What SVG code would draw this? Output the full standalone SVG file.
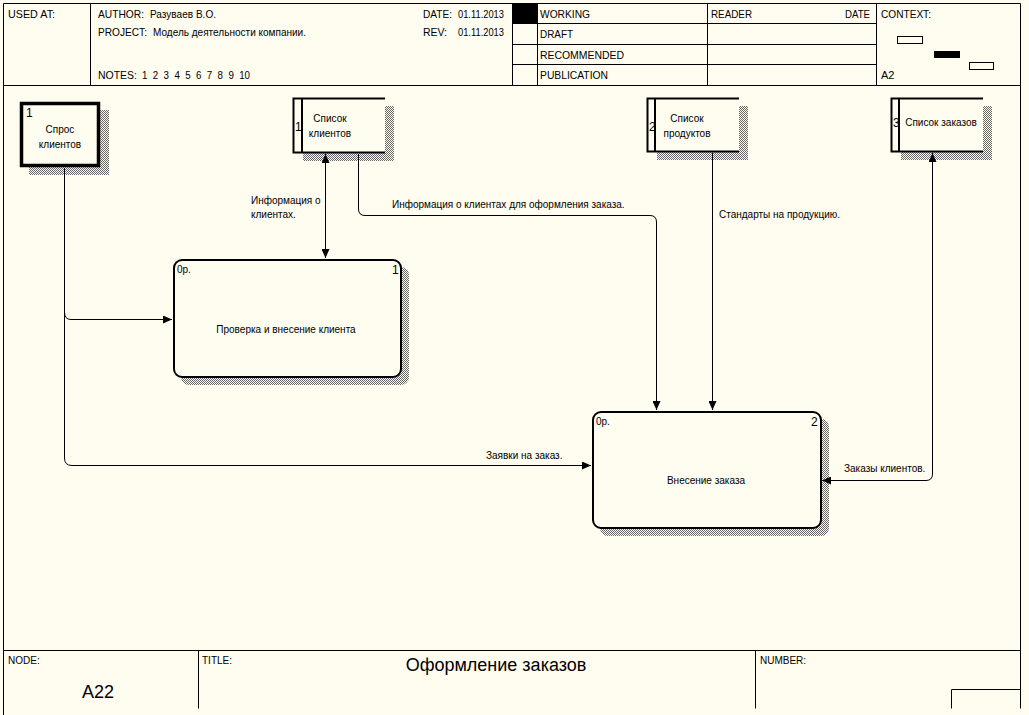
<svg xmlns="http://www.w3.org/2000/svg" width="1029" height="715" viewBox="0 0 1029 715">
<style>
text{font-family:"Liberation Sans",Arial,sans-serif;fill:#000;white-space:pre}
.h{font-size:11px}
.t{font-size:10px}
.n{font-size:12px}
.ln{stroke:#000;stroke-width:1;fill:none}
.box{fill:#FFFCF0;stroke:#000}
.sh{fill:url(#hatch)}
</style>
<defs>
<pattern id="hatch" width="2" height="2" patternUnits="userSpaceOnUse">
<rect width="2" height="2" fill="#FFFCF0"/>
<rect width="1" height="1" fill="#666"/>
<rect x="1" y="1" width="1" height="1" fill="#666"/>
</pattern>
<marker id="ah" markerUnits="userSpaceOnUse" markerWidth="10" markerHeight="8" refX="9" refY="4" orient="auto">
<path d="M0,0 L9,4 L0,8 z" fill="#000"/>
</marker>
</defs>
<rect width="1029" height="715" fill="#FFFCF0"/>

<g id="frame">
<path class="ln" d="M3.5,3.5 H1020.5 V708.5 M3.5,3.5 V715 M3.5,85.5 H1020.5 M90.5,3.5 V85.5 M512.5,3.5 V85.5 M537.5,3.5 V85.5 M707.5,3.5 V85.5 M876.5,3.5 V85.5 M512.5,23.5 H876.5 M512.5,44.5 H876.5 M512.5,64.5 H876.5"/>
<rect x="513" y="4" width="24" height="19" fill="#000"/>
<rect x="897.5" y="36.5" width="25" height="7" fill="#FFFCF0" stroke="#000"/>
<rect x="934" y="51" width="26" height="7" fill="#000"/>
<rect x="969.5" y="62.5" width="24" height="7" fill="#FFFCF0" stroke="#000"/>
<text class="h" x="8" y="18" textLength="47" lengthAdjust="spacingAndGlyphs">USED AT:</text>
<text class="h" x="98" y="18" textLength="46" lengthAdjust="spacingAndGlyphs">AUTHOR:</text>
<text class="h" x="150" y="18" textLength="66" lengthAdjust="spacingAndGlyphs">Разуваев В.О.</text>
<text class="h" x="98" y="36" textLength="49" lengthAdjust="spacingAndGlyphs">PROJECT:</text>
<text class="h" x="153" y="36" textLength="153" lengthAdjust="spacingAndGlyphs">Модель деятельности компании.</text>
<text class="h" x="98" y="79" textLength="39" lengthAdjust="spacingAndGlyphs">NOTES:</text>
<text class="h" x="142" y="79" textLength="108" lengthAdjust="spacingAndGlyphs">1  2  3  4  5  6  7  8  9  10</text>
<text class="h" x="423" y="18" textLength="29" lengthAdjust="spacingAndGlyphs">DATE:</text>
<text class="h" x="458" y="18" textLength="46" lengthAdjust="spacingAndGlyphs">01.11.2013</text>
<text class="h" x="423" y="36" textLength="24" lengthAdjust="spacingAndGlyphs">REV:</text>
<text class="h" x="458" y="36" textLength="46" lengthAdjust="spacingAndGlyphs">01.11.2013</text>
<text class="h" x="540" y="18" textLength="50" lengthAdjust="spacingAndGlyphs">WORKING</text>
<text class="h" x="540" y="38" textLength="33" lengthAdjust="spacingAndGlyphs">DRAFT</text>
<text class="h" x="540" y="59" textLength="84" lengthAdjust="spacingAndGlyphs">RECOMMENDED</text>
<text class="h" x="540" y="79" textLength="68" lengthAdjust="spacingAndGlyphs">PUBLICATION</text>
<text class="h" x="711" y="18" textLength="41" lengthAdjust="spacingAndGlyphs">READER</text>
<text class="h" x="845" y="18" textLength="25" lengthAdjust="spacingAndGlyphs">DATE</text>
<text class="h" x="881" y="18" textLength="50" lengthAdjust="spacingAndGlyphs">CONTEXT:</text>
<text class="h" x="881" y="79">A2</text>
<path class="ln" d="M3.5,650.5 H1020.5 M198.5,650.5 V708.5 M755.5,650.5 V708.5 M951.5,689.5 H1020.5 M951.5,689.5 V708.5"/>
<text class="t" x="8" y="664">NODE:</text>
<text style="font-size:18px" x="82" y="698">A22</text>
<text class="t" x="202" y="664">TITLE:</text>
<text style="font-size:18px" x="496" y="671" text-anchor="middle">Оформление заказов</text>
<text class="t" x="760" y="664">NUMBER:</text>
</g>

<g id="ext-spros">
<rect class="sh" x="29" y="110" width="80" height="65"/>
<rect class="box" x="21.5" y="103.5" width="77" height="62" stroke-width="3.5"/>
<text class="n" x="26" y="117">1</text>
<text class="t" x="60" y="133" text-anchor="middle">Спрос</text>
<text class="t" x="60" y="148" text-anchor="middle">клиентов</text>
</g>

<g id="store-klienty">
<rect class="sh" x="303" y="106" width="91" height="55"/>
<rect x="293" y="98" width="92" height="55" fill="#FFFCF0"/>
<path d="M385,98.5 H293.5 V152.5 H385 M302,98.5 V152.5" fill="none" stroke="#000" stroke-width="2"/>
<text class="n" x="295" y="131">1</text>
<text class="t" x="330" y="122" text-anchor="middle">Список</text>
<text class="t" x="330" y="137" text-anchor="middle">клиентов</text>
</g>

<g id="store-produkty">
<rect class="sh" x="657" y="106" width="91" height="54"/>
<rect x="647" y="98" width="92" height="54" fill="#FFFCF0"/>
<path d="M739,98.5 H647.5 V151.5 H739 M655,98.5 V151.5" fill="none" stroke="#000" stroke-width="2"/>
<text class="n" x="649" y="131">2</text>
<text class="t" x="687" y="122" text-anchor="middle">Список</text>
<text class="t" x="687" y="137" text-anchor="middle">продуктов</text>
</g>

<g id="store-zakazy">
<rect class="sh" x="901" y="106" width="91" height="54"/>
<rect x="891" y="98" width="92" height="54" fill="#FFFCF0"/>
<path d="M983,98.5 H891.5 V151.5 H983 M899,98.5 V151.5" fill="none" stroke="#000" stroke-width="2"/>
<text class="n" x="893" y="127">3</text>
<text class="t" x="941" y="126" text-anchor="middle">Список заказов</text>
</g>

<g id="proc-1">
<rect class="sh" x="181" y="267" width="228" height="118" rx="8"/>
<rect class="box" x="174" y="260" width="227" height="117" rx="8" stroke-width="2"/>
<text class="t" x="177" y="273">0р.</text>
<text class="n" x="392" y="274">1</text>
<text class="t" x="286" y="333" text-anchor="middle">Проверка и внесение клиента</text>
</g>

<g id="proc-2">
<rect class="sh" x="600" y="419" width="229" height="117" rx="8"/>
<rect class="box" x="593" y="412" width="228" height="116" rx="8" stroke-width="2"/>
<text class="t" x="596" y="425">0р.</text>
<text class="n" x="811" y="426">2</text>
<text class="t" x="706" y="484" text-anchor="middle">Внесение заказа</text>
</g>

<g id="connectors">
<path class="ln" d="M64.5,168 V458 Q64.5,465.5 72,465.5 H591" marker-end="url(#ah)"/>
<path class="ln" d="M64.5,312 Q64.5,319.5 71,319.5 H172" marker-end="url(#ah)"/>
<path class="ln" d="M325.5,200 V154" marker-end="url(#ah)"/>
<path class="ln" d="M325.5,200 V258" marker-end="url(#ah)"/>
<path class="ln" d="M358.5,154 V209 Q358.5,215.5 365,215.5 H650 Q656.5,215.5 656.5,222 V410" marker-end="url(#ah)"/>
<path class="ln" d="M712.5,153 V410" marker-end="url(#ah)"/>
<path class="ln" d="M880,480.5 H822" marker-end="url(#ah)"/>
<path class="ln" d="M880,480.5 H926 Q932.5,480.5 932.5,474 V153" marker-end="url(#ah)"/>
<text class="t" x="251" y="204">Информация о</text>
<text class="t" x="251" y="218">клиентах.</text>
<text class="t" x="392" y="208">Информация о клиентах для оформления заказа.</text>
<text class="t" x="719" y="218">Стандарты на продукцию.</text>
<text class="t" x="486" y="459">Заявки на заказ.</text>
<text class="t" x="844" y="472">Заказы клиентов.</text>
</g>
</svg>
